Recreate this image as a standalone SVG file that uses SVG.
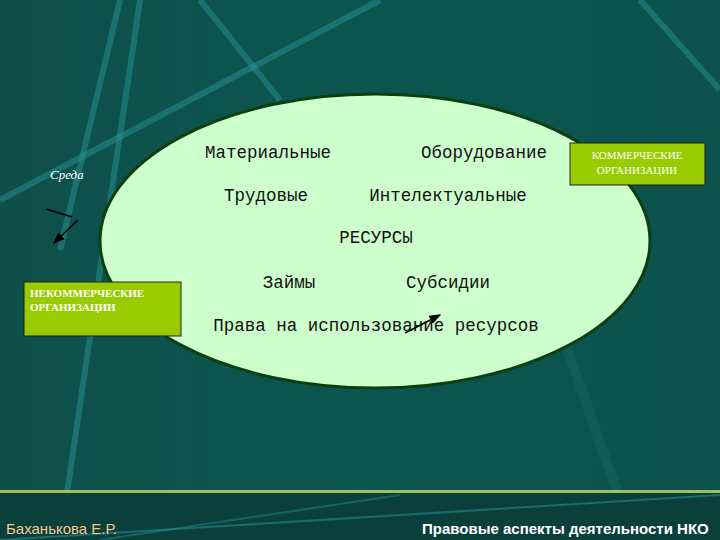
<svg xmlns="http://www.w3.org/2000/svg" width="720" height="540" viewBox="0 0 720 540">
<style>
.r{font-family:"Liberation Mono",monospace;font-size:17.5px;fill:#111}
.box{fill:#99cc00;stroke:#222;stroke-width:1}
.bt{font-family:"Liberation Serif",serif;font-size:11px;fill:#fff}
.ft{font-family:"Liberation Sans",sans-serif;font-size:15px;fill:#fff}
.st{stroke:#2a9a9a;stroke-width:6;opacity:.45}
</style>
<defs>
<marker id="a" markerWidth="8" markerHeight="8" refX="7" refY="4" orient="auto"><path d="M0,1 L8,4 L0,7z" fill="#000"/></marker>
<linearGradient id="bg" x1="0" y1="0" x2="1" y2="0"><stop offset="0" stop-color="#0f4f4a"/><stop offset="0.5" stop-color="#0c5650"/><stop offset="1" stop-color="#0d524c"/></linearGradient>
</defs>
<rect width="720" height="540" fill="url(#bg)"/>
<g id="background">
<line class="st" x1="140" y1="0" x2="60" y2="540"/>
<line class="st" x1="120" y1="0" x2="60" y2="250"/>
<line class="st" x1="0" y1="200" x2="380" y2="0"/>
<line class="st" x1="200" y1="0" x2="280" y2="100"/>
<line class="st" x1="640" y1="0" x2="720" y2="90"/>
<line x1="550" y1="300" x2="620" y2="500" stroke="#1a6a66" stroke-width="10" opacity=".4"/>
<rect x="0" y="490" width="720" height="50" fill="#0a3f3c"/>
<rect x="0" y="490" width="720" height="3" fill="#9fbf60"/>
<line x1="0" y1="540" x2="720" y2="495" stroke="#2a9a9a" stroke-width="2" opacity=".5"/>
<line x1="100" y1="540" x2="400" y2="495" stroke="#2a9a9a" stroke-width="2" opacity=".4"/>
</g>
<g id="resources">
<ellipse cx="375" cy="241" rx="275" ry="147" fill="#ccffcc" stroke="#0a4010" stroke-width="3"/>
<text class="r" x="268" y="158" text-anchor="middle">Материальные</text>
<text class="r" x="484" y="158" text-anchor="middle">Оборудование</text>
<text class="r" x="266" y="201" text-anchor="middle">Трудовые</text>
<text class="r" x="448" y="201" text-anchor="middle">Интелектуальные</text>
<text class="r" x="376" y="243" text-anchor="middle">РЕСУРСЫ</text>
<text class="r" x="289" y="288" text-anchor="middle">Займы</text>
<text class="r" x="448" y="288" text-anchor="middle">Субсидии</text>
<text class="r" x="376" y="331" text-anchor="middle">Права на использование ресурсов</text>
</g>
<g id="commercial">
<rect class="box" x="570" y="143" width="135" height="42"/>
<text class="bt" x="637" y="159" text-anchor="middle">КОММЕРЧЕСКИЕ</text>
<text class="bt" x="637" y="174" text-anchor="middle">ОРГАНИЗАЦИИ</text>
</g>
<g id="noncommercial">
<rect class="box" x="24" y="282" width="157" height="54"/>
<text class="bt" x="30" y="297" font-weight="bold">НЕКОММЕРЧЕСКИЕ</text>
<text class="bt" x="30" y="311" font-weight="bold">ОРГАНИЗАЦИИ</text>
</g>
<g id="sreda"><text x="50" y="179" font-family="Liberation Serif,serif" font-style="italic" font-size="13" fill="#fff">Среда</text></g>
<g id="connectors" stroke="#000" stroke-width="1.5">
<line x1="46" y1="209" x2="72" y2="217"/>
<line x1="78" y1="220" x2="54" y2="243" marker-end="url(#a)"/>
<line x1="405" y1="333" x2="440" y2="315" marker-end="url(#a)"/>
</g>
<g id="footer">
<text class="ft" x="6" y="534" style="fill:#f0c890">Баханькова Е.Р.</text>
<text class="ft" x="422" y="534" font-weight="bold">Правовые аспекты деятельности НКО</text>
</g>
</svg>
